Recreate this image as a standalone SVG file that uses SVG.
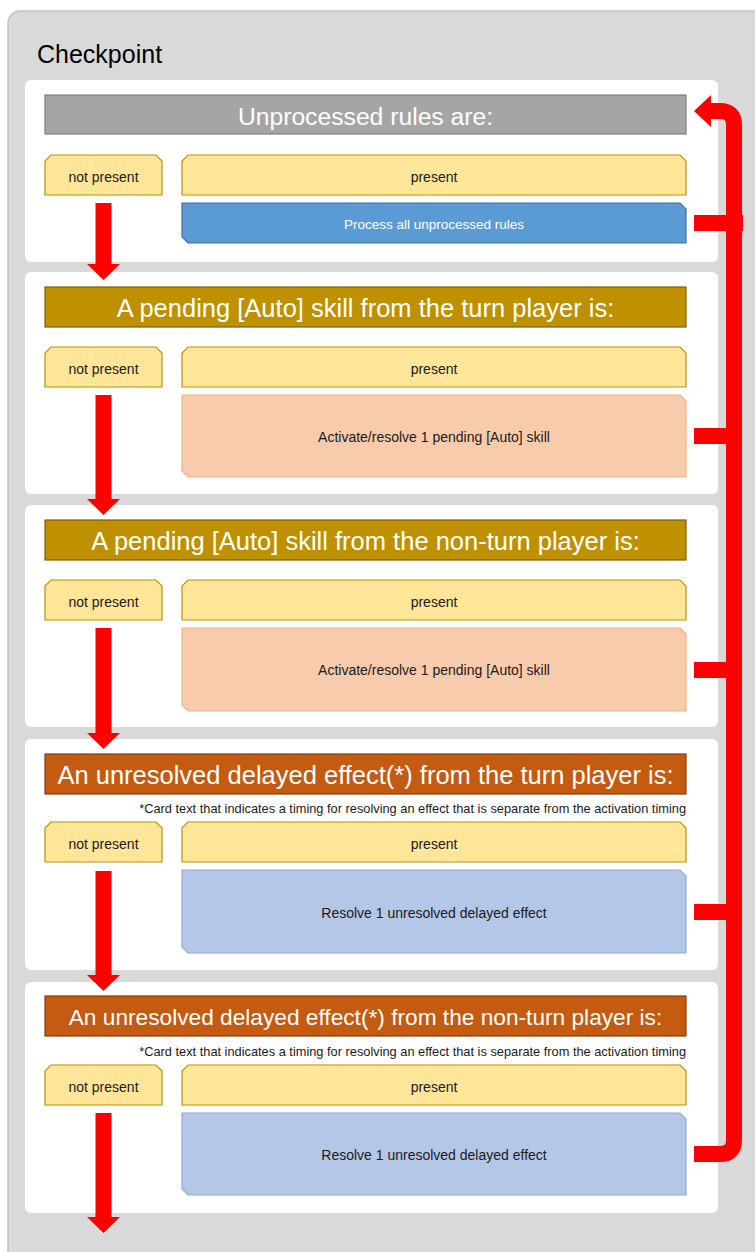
<svg xmlns="http://www.w3.org/2000/svg" width="755" height="1252" viewBox="0 0 755 1252">
<style>
text{font-family:"Liberation Sans",Arial,sans-serif;text-anchor:middle}
.sec{fill:#ffffff}
.hd{fill:#ffffff}
.yel{fill:#ffe699;stroke:#bf9000;stroke-width:1.2}
.sm{font-size:14px;fill:#1a1a1a}
.note{font-size:12.8px;fill:#1a1a1a;text-anchor:end}
.red{fill:#ff0000}
</style>
<rect x="8" y="11" width="770" height="1260" rx="12" fill="#d9d9d9" stroke="#c4c4c4" stroke-width="1.5"/>
<text x="37" y="63" style="font-size:25px;text-anchor:start;fill:#000">Checkpoint</text>

<g id="section1">
<rect class="sec" x="25" y="80" width="693" height="182" rx="6"/>
<rect x="45" y="95" width="641" height="39" fill="#a5a5a5" stroke="#7f7f7f" stroke-width="1.2"/>
<text class="hd" x="365.5" y="124.5" style="font-size:24.7px">Unprocessed rules are:</text>
<path class="yel" d="M51,155H156L162,161V195H45V161Z"/>
<text class="sm" x="103.5" y="182">not present</text>
<path class="yel" d="M188,155H680L686,161V195H182V161Z"/>
<text class="sm" x="434" y="182">present</text>
<path d="M182,203H680L686,209V243H188L182,237Z" fill="#5b9bd5" stroke="#41719c" stroke-width="1.2"/>
<text x="434" y="229" style="font-size:13.5px;fill:#ffffff">Process all unprocessed rules</text>
</g>

<g id="section2">
<rect class="sec" x="25" y="272" width="693" height="222" rx="6"/>
<rect x="45" y="287" width="641" height="40" fill="#bf9000" stroke="#7f6000" stroke-width="1.2"/>
<text class="hd" x="365.5" y="317" style="font-size:25.5px">A pending [Auto] skill from the turn player is:</text>
<path class="yel" d="M51,347H156L162,353V387H45V353Z"/>
<text class="sm" x="103.5" y="374">not present</text>
<path class="yel" d="M188,347H680L686,353V387H182V353Z"/>
<text class="sm" x="434" y="374">present</text>
<path d="M182,395H680L686,401V477H188L182,471Z" fill="#f8cbad" stroke="#f4b183" stroke-width="1.2"/>
<text x="434" y="442" style="font-size:14px;fill:#1a1a1a">Activate/resolve 1 pending [Auto] skill</text>
</g>

<g id="section3">
<rect class="sec" x="25" y="505" width="693" height="222" rx="6"/>
<rect x="45" y="520" width="641" height="40" fill="#bf9000" stroke="#7f6000" stroke-width="1.2"/>
<text class="hd" x="365.5" y="550" style="font-size:25.5px">A pending [Auto] skill from the non-turn player is:</text>
<path class="yel" d="M51,580H156L162,586V620H45V586Z"/>
<text class="sm" x="103.5" y="607">not present</text>
<path class="yel" d="M188,580H680L686,586V620H182V586Z"/>
<text class="sm" x="434" y="607">present</text>
<path d="M182,628H680L686,634V711H188L182,705Z" fill="#f8cbad" stroke="#f4b183" stroke-width="1.2"/>
<text x="434" y="675" style="font-size:14px;fill:#1a1a1a">Activate/resolve 1 pending [Auto] skill</text>
</g>

<g id="section4">
<rect class="sec" x="25" y="739" width="693" height="231" rx="6"/>
<rect x="45" y="754" width="641" height="40" fill="#c55a11" stroke="#843c0c" stroke-width="1.2"/>
<text class="hd" x="365.5" y="784" style="font-size:25.5px">An unresolved delayed effect(*) from the turn player is:</text>
<text class="note" x="686" y="813">*Card text that indicates a timing for resolving an effect that is separate from the activation timing</text>
<path class="yel" d="M51,822H156L162,828V862H45V828Z"/>
<text class="sm" x="103.5" y="849">not present</text>
<path class="yel" d="M188,822H680L686,828V862H182V828Z"/>
<text class="sm" x="434" y="849">present</text>
<path d="M182,870H680L686,876V953H188L182,947Z" fill="#b4c7e7" stroke="#8faadc" stroke-width="1.2"/>
<text x="434" y="918" style="font-size:14px;fill:#1a1a1a">Resolve 1 unresolved delayed effect</text>
</g>

<g id="section5">
<rect class="sec" x="25" y="982" width="693" height="231" rx="6"/>
<rect x="45" y="996" width="641" height="40" fill="#c55a11" stroke="#843c0c" stroke-width="1.2"/>
<text class="hd" x="365.5" y="1025" style="font-size:22.7px">An unresolved delayed effect(*) from the non-turn player is:</text>
<text class="note" x="686" y="1056">*Card text that indicates a timing for resolving an effect that is separate from the activation timing</text>
<path class="yel" d="M51,1065H156L162,1071V1105H45V1071Z"/>
<text class="sm" x="103.5" y="1092">not present</text>
<path class="yel" d="M188,1065H680L686,1071V1105H182V1071Z"/>
<text class="sm" x="434" y="1092">present</text>
<path d="M182,1113H680L686,1119V1195H188L182,1189Z" fill="#b4c7e7" stroke="#8faadc" stroke-width="1.2"/>
<text x="434" y="1160" style="font-size:14px;fill:#1a1a1a">Resolve 1 unresolved delayed effect</text>
</g>

<g id="connectors">
<polygon class="red" points="95.5,203 111.5,203 111.5,264 120,264 103.5,280 87,264 95.5,264"/>
<polygon class="red" points="95.5,395 111.5,395 111.5,499 120,499 103.5,515 87,499 95.5,499"/>
<polygon class="red" points="95.5,628 111.5,628 111.5,733 120,733 103.5,749 87,733 95.5,733"/>
<polygon class="red" points="95.5,871 111.5,871 111.5,975 120,975 103.5,991 87,975 95.5,975"/>
<polygon class="red" points="95.5,1113 111.5,1113 111.5,1217 120,1217 103.5,1233 87,1217 95.5,1217"/>
<path d="M694,1154H720Q734,1154 734,1140V125Q734,111 720,111H709" fill="none" stroke="#ff0000" stroke-width="16"/>
<polygon class="red" points="694,111 711,95 711,127"/>
<rect class="red" x="694" y="215" width="49" height="16"/>
<rect class="red" x="694" y="428" width="40" height="16"/>
<rect class="red" x="694" y="662" width="40" height="16"/>
<rect class="red" x="694" y="904" width="40" height="16"/>
</g>
</svg>
